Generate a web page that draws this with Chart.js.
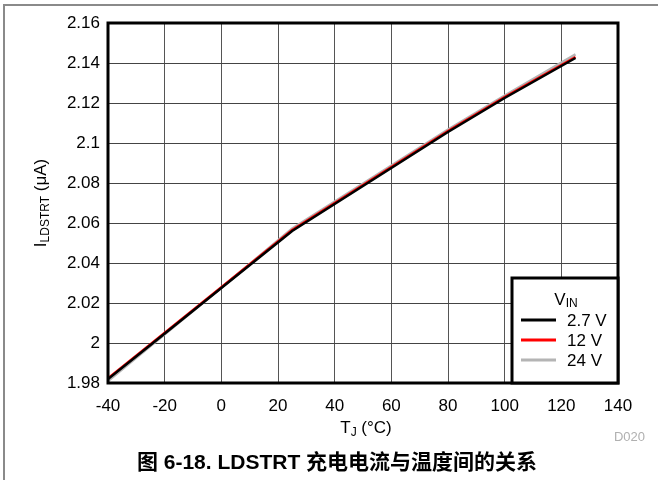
<!DOCTYPE html>
<html>
<head>
<meta charset="utf-8">
<script src="https://cdn.jsdelivr.net/npm/chart.js@4/dist/chart.umd.min.js"></script>
<style>
  html, body { margin: 0; padding: 0; background: #fff; }
  #wrap { position: relative; width: 658px; height: 480px; }
</style>
</head>
<body>
<div id="wrap"><canvas id="c"></canvas></div>
<script>
// junction temperature (°C) and LDSTRT charge current (µA) for each VIN
const temps = [-40, -25, 0, 25, 40, 60, 80, 100, 125];
const i27 = [1.982, 1.999, 2.0275, 2.056, 2.0695, 2.0875, 2.1055, 2.1225, 2.1425];
const i12 = [1.9823, 1.9994, 2.0279, 2.0565, 2.070, 2.088, 2.106, 2.123, 2.143];
const i24 = [1.981, 1.9985, 2.0276, 2.0572, 2.0707, 2.0887, 2.1067, 2.1237, 2.1443];
const seriesNames = ['2.7 V', '12 V', '24 V'];
const seriesColors = ['#000000', '#ff0000', '#b4b4b4'];

const FONT = "'Liberation Sans', Arial, sans-serif";

const pts = arr => temps.map((t, i) => ({ x: t, y: arr[i] }));

// draws text runs (normal + subscript) centred on x
function drawRuns(ctx, runs, x, y) {
  let total = 0;
  runs.forEach(r => {
    ctx.font = r.size + 'px ' + FONT;
    r.w = ctx.measureText(r.t).width;
    total += r.w;
  });
  let cx = x - total / 2;
  ctx.textAlign = 'left';
  ctx.textBaseline = 'middle';
  runs.forEach(r => {
    ctx.font = r.size + 'px ' + FONT;
    ctx.fillText(r.t, cx, y + (r.dy || 0));
    cx += r.w;
  });
}

const decor = {
  id: 'decor',
  beforeDraw(chart) {
    const ctx = chart.ctx;
    ctx.save();
    ctx.strokeStyle = '#8a8a8a';
    ctx.lineWidth = 2;
    ctx.beginPath();
    ctx.moveTo(4, 480);
    ctx.lineTo(4, 5);
    ctx.lineTo(658, 5);
    ctx.stroke();
    ctx.restore();
  },
  afterDatasetsDraw(chart) {
    const ctx = chart.ctx;
    const a = chart.chartArea;
    ctx.save();
    // plot frame
    ctx.strokeStyle = '#000';
    ctx.lineWidth = 3;
    ctx.strokeRect(a.left, a.top, a.right - a.left, a.bottom - a.top);

    // legend box
    const lx = 512, ly = 278;
    ctx.fillStyle = '#fff';
    ctx.fillRect(lx, ly, a.right - lx, a.bottom - ly);
    ctx.strokeRect(lx, ly, a.right - lx, a.bottom - ly);
    ctx.fillStyle = '#000';
    drawRuns(ctx, [{ t: 'V', size: 17 }, { t: 'IN', size: 12, dy: 4 }], 566, 300);
    chart.data.datasets.forEach((ds, i) => {
      const y = 320 + i * 20;
      ctx.strokeStyle = ds.borderColor;
      ctx.lineWidth = 3;
      ctx.beginPath();
      ctx.moveTo(521, y);
      ctx.lineTo(556, y);
      ctx.stroke();
      ctx.fillStyle = '#000';
      ctx.font = '17px ' + FONT;
      ctx.textAlign = 'left';
      ctx.textBaseline = 'middle';
      ctx.fillText(ds.label, 567, y + 1);
    });

    // axis titles
    ctx.fillStyle = '#000';
    drawRuns(ctx, [{ t: 'T', size: 17 }, { t: 'J', size: 12, dy: 5 }, { t: ' (°C)', size: 17 }],
      (a.left + a.right) / 2 + 3, 428);
    ctx.save();
    ctx.translate(41, (a.top + a.bottom) / 2);
    ctx.rotate(-Math.PI / 2);
    drawRuns(ctx, [{ t: 'I', size: 17 }, { t: 'LDSTRT', size: 12, dy: 5 }, { t: ' (μA)', size: 17 }], 0, 0);
    ctx.restore();

    // figure id and caption
    ctx.fillStyle = '#b0b0b0';
    ctx.font = '13px ' + FONT;
    ctx.textAlign = 'right';
    ctx.textBaseline = 'middle';
    ctx.fillText('D020', 645, 437);
    ctx.fillStyle = '#000';
    ctx.font = "bold 21px 'Liberation Sans', 'Noto Sans CJK SC', sans-serif";
    ctx.textAlign = 'center';
    ctx.fillText('图 6-18. LDSTRT 充电电流与温度间的关系', 337, 463);
    ctx.restore();
  }
};

new Chart(document.getElementById('c'), {
  type: 'line',
  data: {
    datasets: [
      { label: seriesNames[0], data: pts(i27), borderColor: seriesColors[0], order: 1 },
      { label: seriesNames[1], data: pts(i12), borderColor: seriesColors[1], order: 2 },
      { label: seriesNames[2], data: pts(i24), borderColor: seriesColors[2], order: 3 }
    ]
  },
  options: {
    responsive: true,
    maintainAspectRatio: false,
    animation: false,
    layout: { padding: { left: 0, top: 23, right: 40, bottom: 0 } },
    elements: {
      line: { borderWidth: 2.5, tension: 0, fill: false },
      point: { radius: 0 }
    },
    scales: {
      x: {
        type: 'linear',
        min: -40,
        max: 140,
        afterFit: s => { s.height = 97; },
        ticks: { stepSize: 20, color: '#000', font: { family: FONT, size: 17 }, padding: 13, maxRotation: 0 },
        grid: { color: '#555', lineWidth: 1, drawTicks: false },
        border: { display: false }
      },
      y: {
        min: 1.98,
        max: 2.16,
        afterFit: s => { s.width = 108; },
        ticks: {
          stepSize: 0.02,
          color: '#000',
          font: { family: FONT, size: 17 },
          padding: 8,
          callback: v => String(parseFloat(v.toFixed(2)))
        },
        grid: { color: '#444', lineWidth: 1, drawTicks: false },
        border: { display: false }
      }
    },
    plugins: {
      legend: { display: false },
      tooltip: { enabled: false }
    }
  },
  plugins: [decor]
});
</script>
</body>
</html>
